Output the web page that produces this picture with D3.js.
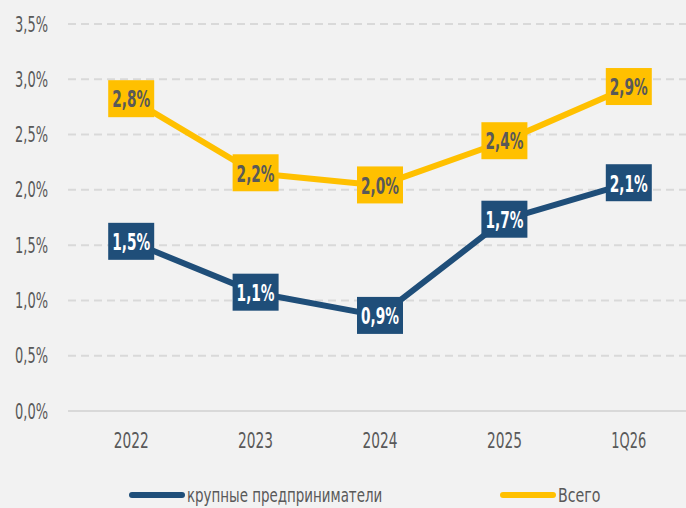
<!DOCTYPE html>
<html>
<head>
<meta charset="utf-8">
<script src="https://cdn.jsdelivr.net/npm/d3@7"></script>
<style>
  body { margin: 0; background: #f2f2f2; }
  svg { display: block; }
  text { font-family: "Liberation Sans Narrow", "DejaVu Sans Condensed", "DejaVu Sans", sans-serif; }
</style>
</head>
<body>
<div id="chart"></div>
<script>
const categories = ["2022", "2023", "2024", "2025", "1Q26"];
const largeBiz = [1.53, 1.07, 0.86, 1.73, 2.06];
const total = [2.82, 2.15, 2.04, 2.44, 2.93];
const largeLabels = ["1,5%", "1,1%", "0,9%", "1,7%", "2,1%"];
const totalLabels = ["2,8%", "2,2%", "2,0%", "2,4%", "2,9%"];
const yTicks = [0, 0.5, 1, 1.5, 2, 2.5, 3, 3.5];
const seriesNames = ["крупные предприниматели", "Всего"];

const width = 686;
const height = 508;
const blue = "#1f4e79";
const yellow = "#ffc000";
const grey = "#595959";

const svg = d3
  .select("#chart")
  .append("svg")
  .attr("width", width)
  .attr("height", height);

svg.append("rect").attr("width", width).attr("height", height).attr("fill", "#f2f2f2");

const x = d3.scalePoint().domain(categories).range([69, 691]).padding(0.5);
const y = d3.scaleLinear().domain([0, 3.5]).range([411, 24]);

// gridlines
svg
  .selectAll(".grid")
  .data(yTicks)
  .enter()
  .append("line")
  .attr("x1", 68)
  .attr("x2", width)
  .attr("y1", (d) => y(d))
  .attr("y2", (d) => y(d))
  .attr("stroke", "#d9d9d9")
  .attr("stroke-width", 2)
  .attr("stroke-dasharray", (d) => (d === 0 ? null : "8,5"));

// the original font is a condensed DIN-like face, so squeeze text to a target width
function squeeze(sel, targetWidth) {
  sel.attr("transform", function () {
    const t = d3.select(this);
    const w = this.getComputedTextLength();
    const sx = Math.min(1, targetWidth / w);
    return `translate(${t.attr("data-x") || 0},${t.attr("data-y") || 0}) scale(${sx},1)`;
  });
}

svg
  .selectAll(".ytick")
  .data(yTicks)
  .enter()
  .append("text")
  .attr("data-x", 48)
  .attr("data-y", (d) => y(d))
  .attr("text-anchor", "end")
  .attr("dy", "0.36em")
  .attr("font-size", 21)
  .attr("fill", grey)
  .text((d) => d.toFixed(1).replace(".", ",") + "%")
  .call(squeeze, 33);

svg
  .selectAll(".xtick")
  .data(categories)
  .enter()
  .append("text")
  .attr("data-x", (d) => x(d))
  .attr("data-y", 440)
  .attr("text-anchor", "middle")
  .attr("dy", "0.36em")
  .attr("font-size", 21)
  .attr("fill", grey)
  .text((d) => d)
  .call(squeeze, 35);

const line = d3
  .line()
  .x((d, i) => x(categories[i]))
  .y((d) => y(d));

const series = [
  { values: total, labels: totalLabels, color: yellow, textColor: grey },
  { values: largeBiz, labels: largeLabels, color: blue, textColor: "#ffffff" },
];

series.forEach((s) => {
  svg
    .append("path")
    .datum(s.values)
    .attr("d", line)
    .attr("fill", "none")
    .attr("stroke", s.color)
    .attr("stroke-width", 6)
    .attr("stroke-linejoin", "round");

  const g = svg
    .selectAll(null)
    .data(s.values)
    .enter()
    .append("g")
    .attr("transform", (d, i) => `translate(${x(categories[i])},${y(d)})`);

  g.append("rect")
    .attr("x", -23)
    .attr("y", -19)
    .attr("width", 46)
    .attr("height", 37)
    .attr("fill", s.color);

  g.append("text")
    .attr("text-anchor", "middle")
    .attr("dy", "0.36em")
    .attr("font-size", 23)
    .attr("font-weight", "bold")
    .attr("fill", s.textColor)
    .text((d, i) => s.labels[i])
    .call(squeeze, 38);
});

// legend
const legend = [
  { name: seriesNames[0], color: blue, x: 129 },
  { name: seriesNames[1], color: yellow, x: 500 },
];

legend.forEach((l) => {
  svg
    .append("line")
    .attr("x1", l.x + 3)
    .attr("x2", l.x + 53)
    .attr("y1", 495)
    .attr("y2", 495)
    .attr("stroke", l.color)
    .attr("stroke-width", 6)
    .attr("stroke-linecap", "round");

  svg
    .append("text")
    .attr("data-x", l.x + 58)
    .attr("data-y", 495)
    .attr("dy", "0.36em")
    .attr("font-size", 20)
    .attr("fill", grey)
    .text(l.name)
    .call(squeeze, l.name.length * 8.5);
});
</script>
</body>
</html>
